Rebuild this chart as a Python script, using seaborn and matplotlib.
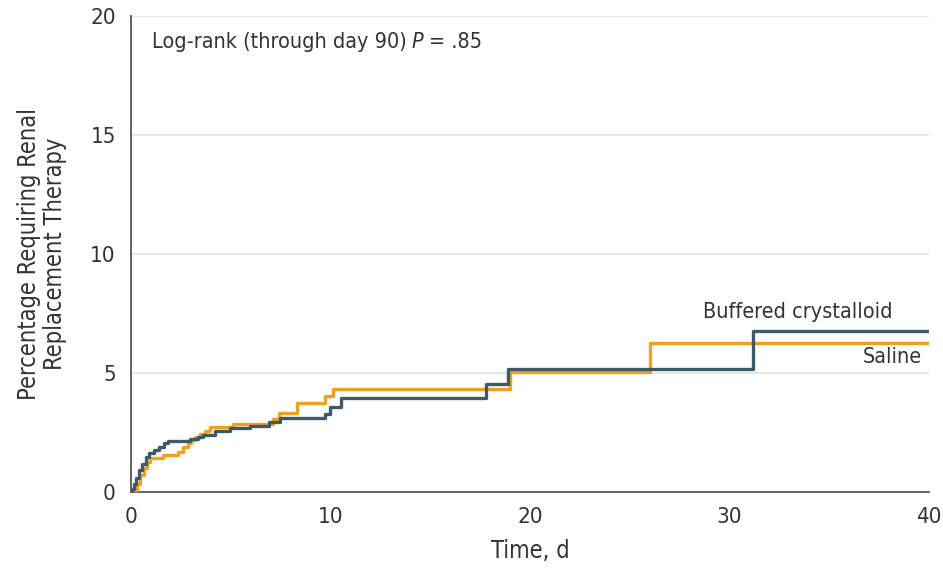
import numpy as np
import pandas as pd
import matplotlib
matplotlib.use('Agg')
import matplotlib.pyplot as plt
import seaborn as sns
from matplotlib import font_manager

# step curves (day, cumulative %)
buffered_t = [0, 0.05, 0.15, 0.25, 0.4, 0.57, 0.73, 0.9, 1.15, 1.4, 1.65, 1.84, 2.94, 3.36,
              3.63, 4.2, 4.96, 5.96, 6.9, 7.47, 9.72, 9.97, 10.55, 17.8, 18.9, 31.2, 40]
buffered_v = [0, 0.15, 0.35, 0.6, 0.92, 1.2, 1.48, 1.65, 1.76, 1.9, 2.05, 2.16, 2.25, 2.3,
              2.42, 2.56, 2.68, 2.79, 2.95, 3.1, 3.3, 3.58, 3.96, 4.56, 5.16, 6.76, 6.76]

saline_t = [0, 0.18, 0.3, 0.47, 0.64, 0.8, 0.97, 1.6, 2.36, 2.6, 2.86, 3.02, 3.2, 3.45, 3.7,
            3.96, 5.1, 7.1, 7.4, 8.3, 9.72, 10.14, 19.0, 26.0, 40]
saline_v = [0, 0.08, 0.36, 0.71, 1.0, 1.27, 1.44, 1.55, 1.69, 1.88, 2.05, 2.18, 2.32, 2.44, 2.55,
            2.72, 2.87, 3.08, 3.32, 3.74, 4.02, 4.32, 5.04, 6.25, 6.25]

x_ticks = [0, 10, 20, 30, 40]
y_ticks = [0, 5, 10, 15, 20]

orange = '#f0a020'
teal = '#3d5a66'

sns.set_style('white')
names = {f.name for f in font_manager.fontManager.ttflist}
narrow = [n for n in ['Liberation Sans Narrow', 'DejaVu Sans'] if n in names]
plt.rcParams['font.family'] = narrow + ['DejaVu Sans']
plt.rcParams['font.stretch'] = 'condensed'

fig = plt.figure(figsize=(9.43, 5.71), dpi=100)
ax = fig.add_axes([0.139, 0.138, 0.846, 0.834])

for val in y_ticks[1:]:
    ax.axhline(val, color='#e3e3e3', lw=1.2, zorder=0)

sal = pd.DataFrame({'t': saline_t, 'v': saline_v})
buf = pd.DataFrame({'t': buffered_t, 'v': buffered_v})
sns.lineplot(data=sal, x='t', y='v', ax=ax, color=orange, lw=2.4,
             drawstyle='steps-post', estimator=None, sort=False, zorder=3)
sns.lineplot(data=buf, x='t', y='v', ax=ax, color=teal, lw=2.4,
             drawstyle='steps-post', estimator=None, sort=False, zorder=4)

ax.set_xlim(0, 40)
ax.set_ylim(0, 20)
ax.set_xticks(x_ticks)
ax.set_yticks(y_ticks)
ax.tick_params(axis='both', direction='out', length=7, width=1.2, color='#555555',
               labelsize=16, labelcolor='#333333', pad=4)
for s in ['top', 'right']:
    ax.spines[s].set_visible(False)
for s in ['left', 'bottom']:
    ax.spines[s].set_color('#555555')
    ax.spines[s].set_linewidth(1.3)

ax.set_xlabel('Time, d', fontsize=17, color='#333333', labelpad=8)
ax.set_ylabel('Percentage Requiring Renal\nReplacement Therapy', fontsize=17,
              color='#333333', labelpad=17, linespacing=1.1)

ax.text(1.05, 18.9, 'Log-rank (through day 90)', fontsize=15.5,
        color='#333333', va='center', ha='left')
ax.text(14.05, 18.9, 'P', fontsize=15.5, style='italic',
        color='#333333', va='center', ha='left')
ax.text(14.95, 18.9, '= .85', fontsize=15.5,
        color='#333333', va='center', ha='left')
ax.text(38.2, 7.56, 'Buffered crystalloid', fontsize=15.5, color='#333333',
        va='center', ha='right')
ax.text(39.65, 5.67, 'Saline', fontsize=15.5, color='#333333', va='center', ha='right')

fig.savefig('out.png', dpi=100)
